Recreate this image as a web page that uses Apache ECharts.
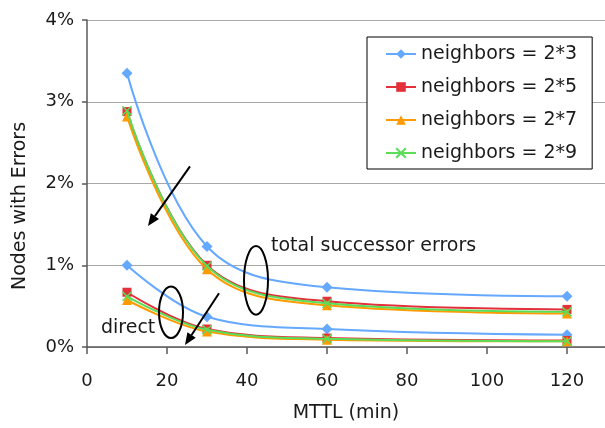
<!DOCTYPE html>
<html>
<head>
<meta charset="utf-8">
<script src="https://cdn.jsdelivr.net/npm/echarts@6/dist/echarts.min.js"></script>
<style>
  html, body { margin: 0; padding: 0; background: #fff; }
  #chart { width: 605px; height: 428px; }
</style>
</head>
<body>
<div id="chart"></div>
<script>
// ---- data (% of nodes) ----
const mttl = [10, 30, 60, 120];
const seriesNames = ['neighbors = 2*3', 'neighbors = 2*5', 'neighbors = 2*7', 'neighbors = 2*9'];
const total_2x3  = [3.35, 1.23, 0.73, 0.62];
const total_2x5  = [2.88, 1.00, 0.56, 0.46];
const total_2x7  = [2.82, 0.95, 0.51, 0.41];
const total_2x9  = [2.89, 0.99, 0.535, 0.43];
const direct_2x3 = [1.00, 0.37, 0.22, 0.15];
const direct_2x5 = [0.67, 0.22, 0.11, 0.08];
const direct_2x7 = [0.575, 0.19, 0.09, 0.07];
const direct_2x9 = [0.62, 0.21, 0.10, 0.07];
const xTicks = [0, 20, 40, 60, 80, 100, 120];
const yTicks = [0, 1, 2, 3, 4];

const FONT = 'DejaVu Sans';
const colors = ['#64a8ff', '#e3303a', '#ff9a00', '#5ade5a'];
const symbols = ['diamond', 'rect', 'triangle', 'path://M0,0L10,10M10,0L0,10'];
const symbolSizes = [11, 9, 10, 9];

function pairs(vals) { return mttl.map((x, i) => [x, vals[i]]); }

const totals = [total_2x3, total_2x5, total_2x7, total_2x9];
const directs = [direct_2x3, direct_2x5, direct_2x7, direct_2x9];

function mkSeries(i, vals) {
  const isX = i === 3;
  return {
    name: seriesNames[i],
    type: 'line',
    data: pairs(vals),
    smooth: 0.38,
    symbol: symbols[i],
    symbolSize: symbolSizes[i],
    lineStyle: { color: colors[i], width: 2 },
    itemStyle: isX
      ? { color: 'rgba(0,0,0,0)', borderColor: colors[i], borderWidth: 1.5 }
      : { color: colors[i], borderWidth: 0 },
    emphasis: { disabled: true },
    z: 2 + i
  };
}

const series = [];
for (let i = 0; i < 4; i++) {
  series.push(mkSeries(i, totals[i]));
  series.push(mkSeries(i, directs[i]));
}

const chart = echarts.init(document.getElementById('chart'), null, { renderer: 'canvas' });

chart.setOption({
  animation: false,
  backgroundColor: '#ffffff',
  textStyle: { fontFamily: FONT, color: '#1a1a1a' },
  grid: { left: 87, right: 0, top: 20, bottom: 79, containLabel: false },
  xAxis: {
    type: 'value',
    min: xTicks[0],
    max: 129.5,
    interval: 20,
    name: 'MTTL (min)',
    nameLocation: 'middle',
    nameGap: 57,
    nameTextStyle: { fontFamily: FONT, fontSize: 19, color: '#1a1a1a' },
    axisLine: { show: true, onZero: false, lineStyle: { color: '#5a5a5a', width: 1.5 } },
    axisTick: { show: true, inside: false, length: 7, customValues: xTicks, lineStyle: { color: '#5a5a5a', width: 1.5 } },
    axisLabel: {
      margin: 25, fontFamily: FONT, fontSize: 18, color: '#1a1a1a',
      customValues: xTicks,
      formatter: v => String(v)
    },
    splitLine: { show: false }
  },
  yAxis: {
    type: 'value',
    min: yTicks[0],
    max: yTicks[yTicks.length - 1],
    interval: 1,
    axisLine: { show: true, lineStyle: { color: '#5a5a5a', width: 1.5 } },
    axisTick: { show: true, inside: false, length: 5, lineStyle: { color: '#5a5a5a', width: 1.5 } },
    axisLabel: { margin: 13, fontFamily: FONT, fontSize: 18, color: '#1a1a1a', formatter: '{value}%' },
    splitLine: { show: true, lineStyle: { color: '#a8a8a8', width: 1 } }
  },
  legend: {
    show: true,
    data: seriesNames,
    orient: 'vertical',
    left: 367,
    top: 37,
    padding: [6, 15, 5, 18],
    itemGap: 11,
    itemWidth: 30,
    itemHeight: 12,
    backgroundColor: '#ffffff',
    borderColor: '#000000',
    borderWidth: 1,
    textStyle: { fontFamily: FONT, fontSize: 19, color: '#1a1a1a', lineHeight: 22 },
    selectedMode: false
  },
  series: series
});

// ---- annotations, anchored in data coordinates ----
function px(x, y) { return chart.convertToPixel({ gridIndex: 0 }, [x, y]); }
function arrow(from, to) {
  const a = px(from[0], from[1]);
  const b = px(to[0], to[1]);
  const ang = Math.atan2(b[1] - a[1], b[0] - a[0]);
  const L = 12, W = 5;
  const bx = b[0] - L * Math.cos(ang), by = b[1] - L * Math.sin(ang);
  const nx = -Math.sin(ang), ny = Math.cos(ang);
  return [
    { type: 'line', shape: { x1: a[0], y1: a[1], x2: bx, y2: by }, style: { stroke: '#000', lineWidth: 2 } },
    { type: 'polygon', shape: { points: [[b[0], b[1]], [bx + nx * W, by + ny * W], [bx - nx * W, by - ny * W]] }, style: { fill: '#000' } }
  ];
}
function ellipse(cx, cy, rxUnits, ryUnits) {
  const c = px(cx, cy);
  const e = px(cx + rxUnits, cy + ryUnits);
  return { type: 'ellipse', shape: { cx: c[0], cy: c[1], rx: Math.abs(e[0] - c[0]), ry: Math.abs(e[1] - c[1]) },
           style: { fill: 'none', stroke: '#000', lineWidth: 2 } };
}
const tTotal = px(46, 1.23);
const tDirect = px(3.5, 0.23);
const yName = [20, 206];
const graphics = [
  { type: 'text', x: tTotal[0], y: tTotal[1], style: { text: 'total successor errors', fontFamily: FONT, fontSize: 19, fill: '#1a1a1a', align: 'left', verticalAlign: 'middle' } },
  { type: 'text', x: tDirect[0], y: tDirect[1], style: { text: 'direct', fontFamily: FONT, fontSize: 19, fill: '#1a1a1a', align: 'left', verticalAlign: 'middle' } },
  { type: 'text', x: yName[0], y: yName[1], rotation: Math.PI / 2, style: { text: 'Nodes with Errors', fontFamily: FONT, fontSize: 19, fill: '#1a1a1a', align: 'center', verticalAlign: 'middle' } },
  ellipse(42.25, 0.815, 3, 0.42),
  ellipse(21, 0.425, 3, 0.316)
].concat(arrow([25.75, 2.21], [15.25, 1.48]), arrow([33, 0.657], [24.5, 0.024]));
chart.setOption({ graphic: graphics.map(g => Object.assign({ z: 100, silent: true }, g)) });
</script>
</body>
</html>
